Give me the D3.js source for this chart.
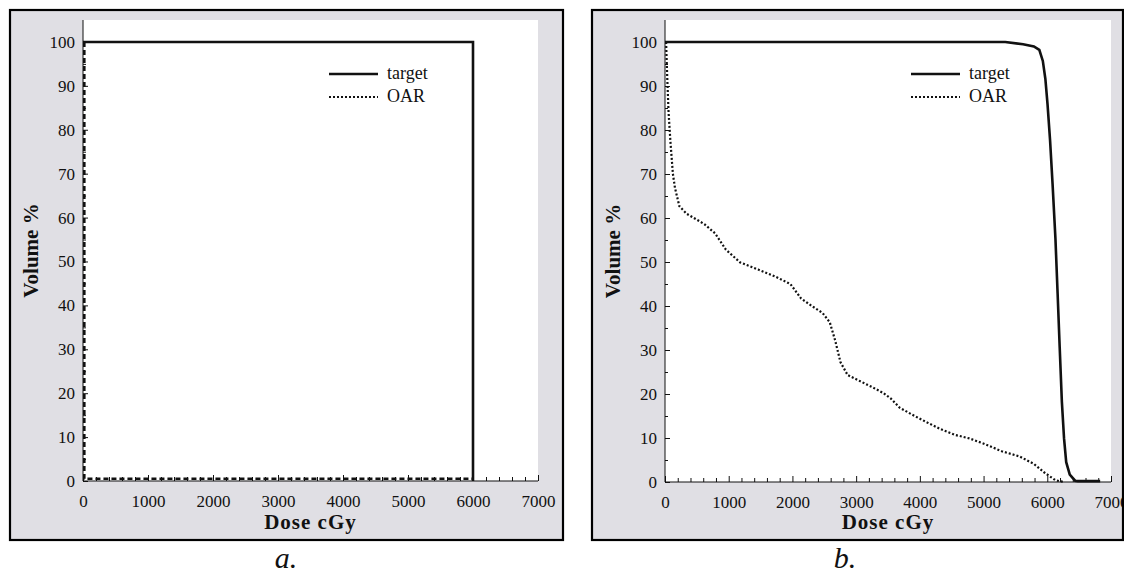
<!DOCTYPE html>
<html>
<head>
<meta charset="utf-8">
<script src="https://cdn.jsdelivr.net/npm/d3@7"></script>
<style>
  body { margin: 0; background: #fff; }
  svg { display: block; }
  .tick-label { font-family: "Liberation Serif", "Times New Roman", serif; font-size: 17px; fill: #111; }
  .axis-title { font-family: "Liberation Serif", "Times New Roman", serif; font-size: 21px; font-weight: bold; fill: #111; }
  .legend-text { font-family: "Liberation Serif", "Times New Roman", serif; font-size: 18px; fill: #111; }
  .panel-label { font-family: "Liberation Serif", "Times New Roman", serif; font-size: 30px; font-style: italic; fill: #111; }
</style>
</head>
<body>
<script>
// axis ticks
const doseTicks = [0, 1000, 2000, 3000, 4000, 5000, 6000, 7000];
const volumeTicks = [0, 10, 20, 30, 40, 50, 60, 70, 80, 90, 100];
const seriesNames = ["target", "OAR"];
const panelNames = ["a.", "b."];

// panel a: ideal DVH
const targetDoseA = [0, 6000, 6000];
const targetVolA = [100, 100, 0];
const oarDoseA = [20, 20, 5990];
const oarVolA = [100, 0.5, 0.5];

// panel b: planned DVH
const targetDoseB = [0, 5340, 5620, 5790, 5875, 5930, 5970, 6004, 6044, 6083, 6128, 6162, 6195, 6229, 6263, 6297, 6353, 6437, 6480, 6830];
const targetVolB = [100, 100, 99.5, 99, 98.2, 95.7, 91.6, 85.8, 77.6, 67.7, 55.3, 42.9, 30.5, 18.2, 9.9, 4.5, 1.7, 0.3, 0.2, 0.2];
const oarDoseB = [17, 35, 56, 84, 124, 157, 225, 337, 618, 787, 956, 1180, 1462, 1743, 1968, 2136, 2305, 2474, 2586, 2670, 2755, 2867, 3036, 3261, 3429, 3542, 3683, 3879, 4104, 4329, 4554, 4779, 5004, 5285, 5566, 5791, 5959, 6128, 6260];
const oarVolB = [100, 92, 84, 77.6, 70, 66.8, 62.7, 61, 58.6, 56.5, 52.8, 49.9, 48.3, 46.6, 45, 41.7, 40, 38.4, 36.3, 32.2, 27.2, 24.3, 23.1, 21.5, 20.2, 19, 16.9, 15.3, 13.6, 12, 10.7, 9.9, 8.7, 7, 5.8, 4.1, 2.1, 0.4, 0];

const svg = d3.select("body").append("svg")
    .attr("width", 1124)
    .attr("height", 573);

function zip(xs, ys) {
    return xs.map((x, i) => ({ x: x, y: ys[i] }));
}

function drawPanel(p) {
    const g = svg.append("g");

    // grey frame background
    g.append("rect")
        .attr("x", p.frame[0]).attr("y", p.frame[1])
        .attr("width", p.frame[2] - p.frame[0]).attr("height", p.frame[3] - p.frame[1])
        .attr("fill", "#e0dfe4");

    const xScale = d3.scaleLinear().domain([0, 7000]).range([p.left, p.right]);
    const yScale = d3.scaleLinear().domain([0, 105]).range([p.bottom, p.top]);

    // white plotting area
    g.append("rect")
        .attr("x", xScale(0)).attr("y", yScale(105))
        .attr("width", xScale(7000) - xScale(0))
        .attr("height", yScale(0) - yScale(105))
        .attr("fill", "#fff");

    // minor ticks
    const minorX = d3.range(0, 7001, 200).filter(d => d % 1000 != 0);
    const minorY = d3.range(5, 101, 10);

    g.append("g")
        .attr("transform", "translate(0," + yScale(0) + ")")
        .call(d3.axisBottom(xScale).tickValues(minorX).tickSize(-4).tickFormat(""))
        .call(a => a.select(".domain").remove())
        .selectAll("line").attr("stroke", "#111");

    g.append("g")
        .attr("transform", "translate(" + xScale(0) + ",0)")
        .call(d3.axisLeft(yScale).tickValues(minorY).tickSize(-3).tickFormat(""))
        .call(a => a.select(".domain").remove())
        .selectAll("line").attr("stroke", "#111");

    // x axis
    const xAxis = g.append("g")
        .attr("transform", "translate(0," + yScale(0) + ")")
        .call(d3.axisBottom(xScale).tickValues(doseTicks).tickFormat(d3.format("d"))
            .tickSize(-6).tickPadding(14).tickSizeOuter(0));
    xAxis.select(".domain").attr("stroke", "#111").attr("d", "M" + xScale(0) + ",0H" + xScale(7000));
    xAxis.selectAll("line").attr("stroke", "#111");
    xAxis.selectAll("text").attr("class", "tick-label").attr("fill", null);

    // y axis
    const yAxis = g.append("g")
        .attr("transform", "translate(" + xScale(0) + ",0)")
        .call(d3.axisLeft(yScale).tickValues(volumeTicks).tickFormat(d3.format("d"))
            .tickSize(-5).tickPadding(8).tickSizeOuter(0));
    yAxis.select(".domain").attr("stroke", "#111").attr("d", "M0," + yScale(105) + "V" + yScale(0));
    yAxis.selectAll("line").attr("stroke", "#111");
    yAxis.selectAll("text").attr("class", "tick-label").attr("fill", null);

    const line = d3.line()
        .x(d => xScale(d.x))
        .y(d => yScale(d.y));

    g.append("path")
        .datum(zip(p.oarDose, p.oarVol))
        .attr("fill", "none")
        .attr("stroke", "#111")
        .attr("stroke-width", p.oarWidth)
        .attr("stroke-dasharray", p.oarDash)
        .attr("d", line);

    g.append("path")
        .datum(zip(p.targetDose, p.targetVol))
        .attr("fill", "none")
        .attr("stroke", "#111")
        .attr("stroke-width", 2.6)
        .attr("d", line);

    // legend
    const legend = g.append("g")
        .attr("transform", "translate(" + (xScale(0) + 246) + ",74)");
    seriesNames.forEach((name, i) => {
        legend.append("line")
            .attr("x1", 0).attr("x2", 49)
            .attr("y1", i * 23).attr("y2", i * 23)
            .attr("stroke", "#111")
            .attr("stroke-width", i == 0 ? 2.6 : 2.2)
            .attr("stroke-dasharray", i == 0 ? null : "2,2");
        legend.append("text")
            .attr("class", "legend-text")
            .attr("x", 58).attr("y", i * 23 + 5)
            .text(name);
    });

    // axis titles
    g.append("text")
        .attr("class", "axis-title")
        .attr("text-anchor", "middle")
        .attr("letter-spacing", "1px")
        .attr("x", (xScale(0) + xScale(7000)) / 2)
        .attr("y", 529)
        .text("Dose cGy");

    g.append("text")
        .attr("class", "axis-title")
        .attr("text-anchor", "middle")
        .attr("transform", "translate(" + (xScale(0) - 45) + "," + ((yScale(0) + yScale(105)) / 2) + ") rotate(-90)")
        .text("Volume %");

    // frame border on top
    g.append("rect")
        .attr("x", p.frame[0]).attr("y", p.frame[1])
        .attr("width", p.frame[2] - p.frame[0]).attr("height", p.frame[3] - p.frame[1])
        .attr("fill", "none")
        .attr("stroke", "#000")
        .attr("stroke-width", 2.2);

    g.append("text")
        .attr("class", "panel-label")
        .attr("text-anchor", "middle")
        .attr("x", p.labelX)
        .attr("y", 568)
        .text(p.name);
}

drawPanel({
    name: panelNames[0],
    frame: [10, 10, 563, 540],
    left: 83, right: 538, top: 20, bottom: 481,
    targetDose: targetDoseA, targetVol: targetVolA,
    oarDose: oarDoseA, oarVol: oarVolA, oarDash: "5,3", oarWidth: 2.6,
    labelX: 286
});

drawPanel({
    name: panelNames[1],
    frame: [592, 10, 1123, 540],
    left: 665, right: 1111, top: 20, bottom: 482,
    targetDose: targetDoseB, targetVol: targetVolB,
    oarDose: oarDoseB, oarVol: oarVolB, oarDash: "2,2", oarWidth: 2.2,
    labelX: 845
});
</script>
</body>
</html>
